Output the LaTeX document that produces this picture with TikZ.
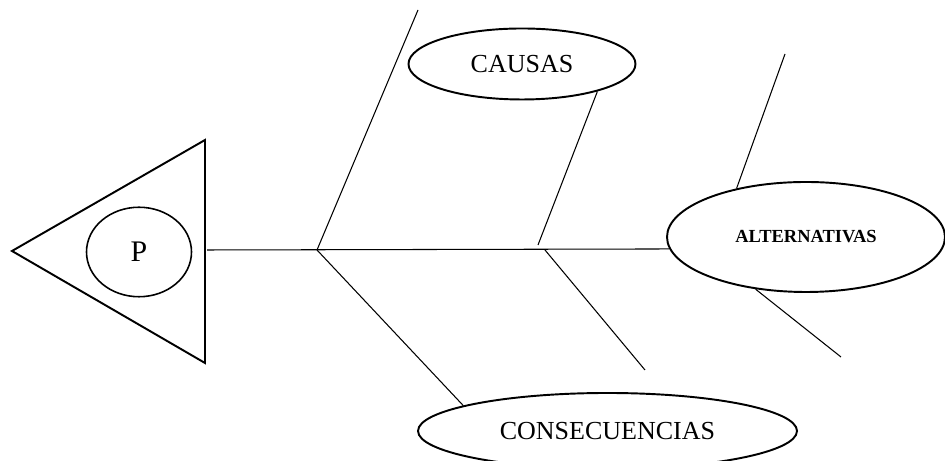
\documentclass[tikz,border=0pt]{standalone}
\usepackage{fontspec}
\setmainfont{Liberation Serif}
\usepackage{tikz}
\usetikzlibrary{positioning, shapes.geometric, calc}
\tikzset{
  elip/.style={draw, ellipse, line width=1.1pt, inner sep=0pt},
  bone/.style={line width=0.6pt},
  big/.style={font=\fontsize{14.8}{17}\selectfont},
}

\begin{document}
\begin{tikzpicture}
  \useasboundingbox (0,0) rectangle (18.9,9.22);
  \clip (0,0) rectangle (18.9,9.22);
  % Cabeza del pescado
  \draw[line width=1.1pt, line join=miter] (0.24,4.20) -- (4.10,6.42) -- (4.10,1.96) -- cycle;
  \node[draw, ellipse, line width=0.9pt, inner sep=0pt, minimum width=2.10cm,
        minimum height=1.79cm, font=\fontsize{17}{20}\selectfont] (prob) at (2.78,4.18) {P};
  \coordinate (head) at (4.14,4.22);
  % Elipses
  \node[elip, big, minimum width=4.54cm, minimum height=1.42cm] (causas) at (10.44,7.94) {CAUSAS};
  \node[elip, minimum width=5.56cm, minimum height=2.20cm,
        font=\fontsize{10.5}{12}\selectfont\bfseries] (alt) at (16.12,4.48) {ALTERNATIVAS};
  \node[elip, big, minimum width=7.58cm, minimum height=1.52cm] (cons) at (12.15,0.60) {CONSECUENCIAS};
  % Espina central
  \draw[bone] (head) -- (alt.185.5);
  % Espinas
  \coordinate (j1) at (6.34,4.22);
  \coordinate (j1top) at (8.36,9.02);
  \coordinate (j2up) at (10.76,4.32);
  \coordinate (j2) at (10.90,4.22);
  \coordinate (j2bot) at (12.90,1.82);
  \coordinate (a1) at (15.70,8.14);
  \coordinate (a2) at (16.82,2.08);
  \draw[bone] (j1) -- (j1top);
  \draw[bone] (j1) -- (cons.170);
  \draw[bone] (j2up) -- (causas.340.7);
  \draw[bone] (j2) -- (j2bot);
  \draw[bone] (alt.145.4) -- (a1);
  \draw[bone] (alt.226.7) -- (a2);
\end{tikzpicture}
\end{document}
